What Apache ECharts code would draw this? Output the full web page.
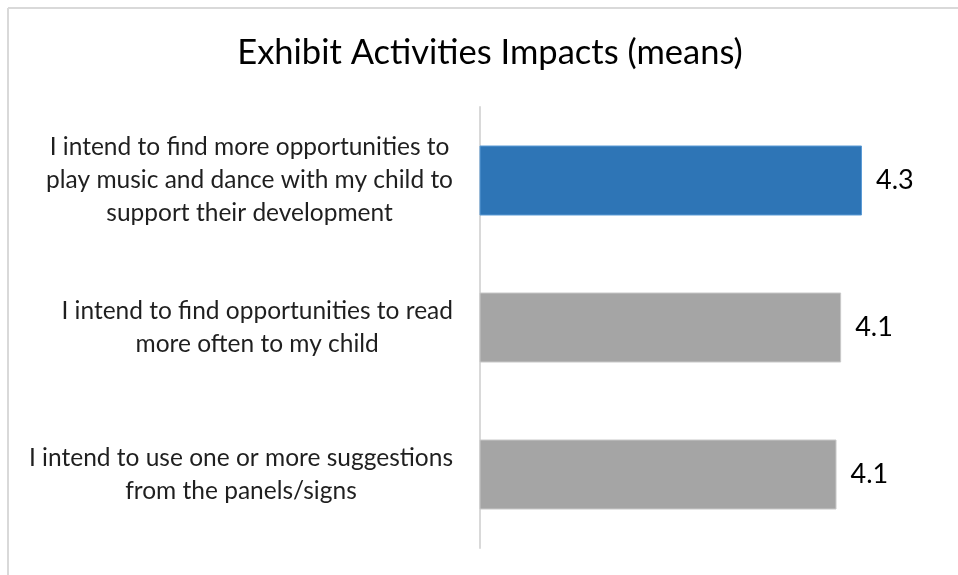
<!DOCTYPE html>
<html>
<head>
<meta charset="utf-8">
<title>Exhibit Activities Impacts (means)</title>
<script src="https://cdn.jsdelivr.net/npm/echarts@6/dist/echarts.min.js"></script>
<style>
  html, body { margin: 0; padding: 0; background: #ffffff; }
  #chart { width: 958px; height: 575px; }
</style>
</head>
<body>
<div id="chart"></div>
<script>
// Survey statements (top to bottom) and their mean scores
const categories = [
  'I intend to find more opportunities to\nplay music and dance with my child to\nsupport their development',
  'I intend to find opportunities to read\nmore often to my child',
  'I intend to use one or more suggestions\nfrom the panels/signs'
];
const means = [4.30, 4.12, 4.08];
const barColors = ['#2e75b6', '#a5a5a5', '#a5a5a5'];
const barEdges = ['#5b9bd5', '#c8c8c8', '#c8c8c8'];

const FONT = 'Lato, "Open Sans", sans-serif';

const chart = echarts.init(document.getElementById('chart'), null, { renderer: 'canvas' });

chart.setOption({
  animation: false,
  backgroundColor: '#ffffff',
  title: {
    text: 'Exhibit Activities Impacts (means)',
    left: 485,
    textAlign: 'center',
    top: 30,
    textStyle: { fontFamily: FONT, fontSize: 34.5, fontWeight: 'normal', color: '#000000' }
  },
  graphic: [
    { type: 'line', shape: { x1: 8, y1: 8, x2: 958, y2: 8 }, style: { stroke: '#d9d9d9', lineWidth: 2 } },
    { type: 'line', shape: { x1: 8, y1: 8, x2: 8, y2: 575 }, style: { stroke: '#d9d9d9', lineWidth: 2 } }
  ],
  grid: { left: 480, right: 15, top: 107, bottom: 27, containLabel: false },
  xAxis: {
    type: 'value',
    min: 1,
    max: 5,
    show: false
  },
  yAxis: {
    type: 'category',
    inverse: true,
    data: categories,
    axisLine: { show: true, lineStyle: { color: '#d9d9d9', width: 2 } },
    axisTick: { show: false },
    axisLabel: {
      margin: 27,
      align: 'right',
      fontFamily: FONT,
      fontSize: 24.5,
      lineHeight: 33,
      color: '#1f1f1f',
      formatter: function (v) {
        return v.split('\n').map(function (l) { return '{c|' + l + '}'; }).join('\n');
      },
      rich: {
        c: { align: 'center', fontFamily: FONT, fontSize: 24.5, lineHeight: 33, color: '#1f1f1f' }
      }
    }
  },
  series: [{
    type: 'bar',
    barWidth: 70,
    data: means.map(function (v, i) {
      return {
        value: v,
        itemStyle: { color: barColors[i], borderColor: barEdges[i], borderWidth: 1 }
      };
    }),
    label: {
      show: true,
      position: 'right',
      distance: 14,
      fontFamily: FONT,
      fontSize: 27,
      color: '#000000',
      formatter: function (p) { return p.value.toFixed(1); }
    }
  }]
});
</script>
</body>
</html>
